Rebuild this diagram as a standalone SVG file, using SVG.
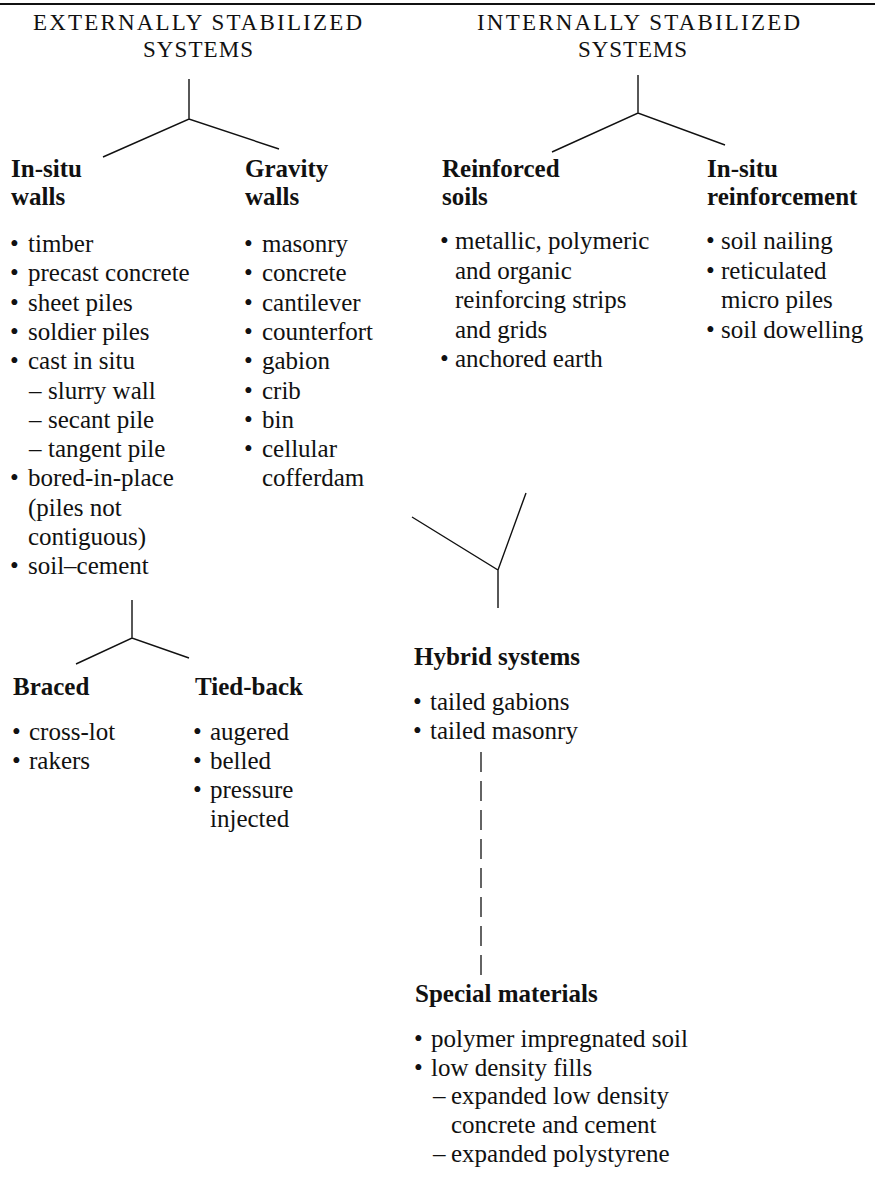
<svg xmlns="http://www.w3.org/2000/svg" width="875" height="1181" viewBox="0 0 875 1181">
<style>
text{font-family:"Liberation Serif","Times New Roman",serif;fill:#111;}
.t{font-size:23px;}
.h{font-size:25px;font-weight:bold;}
.b{font-size:25px;}
.ln{stroke:#111;stroke-width:1.4;fill:none;}
.dash{stroke:#111;stroke-width:1.3;fill:none;stroke-dasharray:20 9;}
</style>
<rect width="875" height="1181" fill="#fff"/>
<line x1="0" y1="4" x2="875" y2="4" stroke="#111" stroke-width="2"/>
<g id="external">
<text class="t" x="33" y="30" textLength="329" lengthAdjust="spacing">EXTERNALLY STABILIZED</text>
<text class="t" x="143" y="57" textLength="110" lengthAdjust="spacing">SYSTEMS</text>
</g>
<g id="internal">
<text class="t" x="477" y="30" textLength="323" lengthAdjust="spacing">INTERNALLY STABILIZED</text>
<text class="t" x="578" y="57" textLength="109" lengthAdjust="spacing">SYSTEMS</text>
</g>
<g id="connectors">
<path class="ln" d="M189,79 V119 M103,157 L189,119 L279,149"/>
<path class="ln" d="M638,75 V113 M552,152 L638,113 L725,145"/>
<path class="ln" d="M412,517 L498,570 L526,493 M498,570 V608"/>
<path class="ln" d="M132,600 V638 M76,664 L132,638 L189,658"/>
<path class="dash" d="M481,752 V977"/>
</g>
<g id="insitu-walls">
<text class="h" x="11" y="177">In-situ</text>
<text class="h" x="11" y="205">walls</text>
<text class="b" y="252"><tspan x="10">•</tspan><tspan x="28">timber</tspan></text>
<text class="b" y="281.3"><tspan x="10">•</tspan><tspan x="28">precast concrete</tspan></text>
<text class="b" y="310.6"><tspan x="10">•</tspan><tspan x="28">sheet piles</tspan></text>
<text class="b" y="339.9"><tspan x="10">•</tspan><tspan x="28">soldier piles</tspan></text>
<text class="b" y="369.2"><tspan x="10">•</tspan><tspan x="28">cast in situ</tspan></text>
<text class="b" y="398.5"><tspan x="29">–</tspan><tspan x="48">slurry wall</tspan></text>
<text class="b" y="427.8"><tspan x="29">–</tspan><tspan x="48">secant pile</tspan></text>
<text class="b" y="457.1"><tspan x="29">–</tspan><tspan x="48">tangent pile</tspan></text>
<text class="b" y="486.4"><tspan x="10">•</tspan><tspan x="28">bored-in-place</tspan></text>
<text class="b" x="28" y="515.7">(piles not</text>
<text class="b" x="28" y="545">contiguous)</text>
<text class="b" y="574.3"><tspan x="10">•</tspan><tspan x="28">soil–cement</tspan></text>
</g>
<g id="gravity-walls">
<text class="h" x="245" y="177">Gravity</text>
<text class="h" x="245" y="205">walls</text>
<text class="b" y="252"><tspan x="244">•</tspan><tspan x="262">masonry</tspan></text>
<text class="b" y="281.3"><tspan x="244">•</tspan><tspan x="262">concrete</tspan></text>
<text class="b" y="310.6"><tspan x="244">•</tspan><tspan x="262">cantilever</tspan></text>
<text class="b" y="339.9"><tspan x="244">•</tspan><tspan x="262">counterfort</tspan></text>
<text class="b" y="369.2"><tspan x="244">•</tspan><tspan x="262">gabion</tspan></text>
<text class="b" y="398.5"><tspan x="244">•</tspan><tspan x="262">crib</tspan></text>
<text class="b" y="427.8"><tspan x="244">•</tspan><tspan x="262">bin</tspan></text>
<text class="b" y="457.1"><tspan x="244">•</tspan><tspan x="262">cellular</tspan></text>
<text class="b" x="262" y="486.4">cofferdam</text>
</g>
<g id="reinforced-soils">
<text class="h" x="442" y="177">Reinforced</text>
<text class="h" x="442" y="205">soils</text>
<text class="b" y="249"><tspan x="440">•</tspan><tspan x="455">metallic, polymeric</tspan></text>
<text class="b" x="455" y="278.5">and organic</text>
<text class="b" x="455" y="308">reinforcing strips</text>
<text class="b" x="455" y="337.5">and grids</text>
<text class="b" y="367"><tspan x="440">•</tspan><tspan x="455">anchored earth</tspan></text>
</g>
<g id="insitu-reinforcement">
<text class="h" x="707" y="177">In-situ</text>
<text class="h" x="707" y="205">reinforcement</text>
<text class="b" y="249"><tspan x="706">•</tspan><tspan x="721">soil nailing</tspan></text>
<text class="b" y="278.5"><tspan x="706">•</tspan><tspan x="721">reticulated</tspan></text>
<text class="b" x="721" y="308">micro piles</text>
<text class="b" y="337.5"><tspan x="706">•</tspan><tspan x="721">soil dowelling</tspan></text>
</g>
<g id="braced">
<text class="h" x="13" y="695">Braced</text>
<text class="b" y="740"><tspan x="12">•</tspan><tspan x="29">cross-lot</tspan></text>
<text class="b" y="769"><tspan x="12">•</tspan><tspan x="29">rakers</tspan></text>
</g>
<g id="tied-back">
<text class="h" x="195" y="695">Tied-back</text>
<text class="b" y="740"><tspan x="193">•</tspan><tspan x="210">augered</tspan></text>
<text class="b" y="769"><tspan x="193">•</tspan><tspan x="210">belled</tspan></text>
<text class="b" y="798"><tspan x="193">•</tspan><tspan x="210">pressure</tspan></text>
<text class="b" x="210" y="827">injected</text>
</g>
<g id="hybrid-systems">
<text class="h" x="414" y="665">Hybrid systems</text>
<text class="b" y="710"><tspan x="413">•</tspan><tspan x="430">tailed gabions</tspan></text>
<text class="b" y="739"><tspan x="413">•</tspan><tspan x="430">tailed masonry</tspan></text>
</g>
<g id="special-materials">
<text class="h" x="415" y="1002">Special materials</text>
<text class="b" y="1047"><tspan x="414">•</tspan><tspan x="431">polymer impregnated soil</tspan></text>
<text class="b" y="1076"><tspan x="414">•</tspan><tspan x="431">low density fills</tspan></text>
<text class="b" y="1104"><tspan x="433">–</tspan><tspan x="451">expanded low density</tspan></text>
<text class="b" x="451" y="1133">concrete and cement</text>
<text class="b" y="1162"><tspan x="433">–</tspan><tspan x="451">expanded polystyrene</tspan></text>
</g>
</svg>
